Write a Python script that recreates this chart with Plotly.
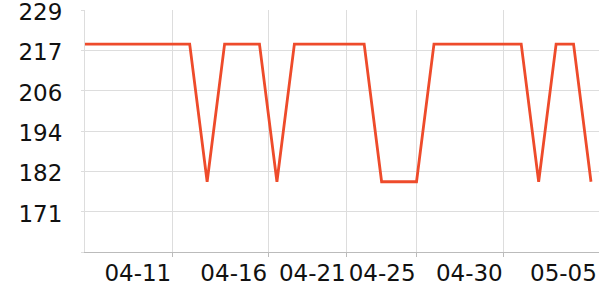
import plotly.graph_objects as go
import pandas as pd

dates = pd.date_range("2024-04-06", "2024-05-05", freq="D").strftime("%Y-%m-%d").tolist()
values = [219, 219, 219, 219, 219, 219, 219, 179.4, 219, 219,
          219, 179.4, 219, 219, 219, 219, 219, 179.4, 179.4, 179.4,
          219, 219, 219, 219, 219, 219, 179.4, 219, 219, 179.4]

y_tickvals = [159.2, 170.8, 182.4, 194.0, 205.6, 217.2, 228.8]
y_ticktext = ["", "171", "182", "194", "206", "217", "229"]

x_tickvals = ["2024-04-11", "2024-04-16 12:00", "2024-04-21", "2024-04-25", "2024-04-30"]
x_ticktext = ["04-11", "04-16", "04-21", "04-25", "04-30"]
last_label_x = "2024-05-05 08:30"
last_label = "05-05"
x_range = ["2024-04-06", "2024-05-05 11:00"]

fig = go.Figure()
fig.add_trace(go.Scatter(x=dates, y=values, mode="lines",
                         line=dict(color="#ee4b2b", width=2.8), hoverinfo="skip"))

fig.add_annotation(x=last_label_x, y=0, yref="paper", text=last_label, showarrow=False,
                   xanchor="right", yanchor="top", yshift=-6, xshift=2,
                   font=dict(family="DejaVu Sans", size=23, color="#111"))

fig.update_layout(
    width=600, height=300,
    margin=dict(l=85, r=1, t=10, b=48),
    paper_bgcolor="white", plot_bgcolor="white",
    showlegend=False,
    font=dict(family="DejaVu Sans", size=23, color="#111"),
)
fig.update_xaxes(
    type="date", range=x_range,
    tickvals=x_tickvals, ticktext=x_ticktext,
    ticklabelposition="outside left", tickangle=0,
    showgrid=True, gridcolor="#dddddd", gridwidth=1,
    showline=True, linecolor="#bbbbbb", linewidth=1,
    ticks="outside", ticklen=4, tickcolor="#bbbbbb",
    zeroline=False, automargin=False,
)
fig.update_yaxes(
    range=[159.2, 228.8],
    tickvals=y_tickvals, ticktext=y_ticktext,
    showgrid=True, gridcolor="#dddddd", gridwidth=1,
    showline=True, linecolor="#dddddd", linewidth=1,
    ticks="outside", ticklen=3, tickcolor="#dddddd",
    ticklabelstandoff=14, ticklabeloverflow="allow", ticklabelshift=2,
    zeroline=False, automargin=False,
)

fig.write_html("out.html")
